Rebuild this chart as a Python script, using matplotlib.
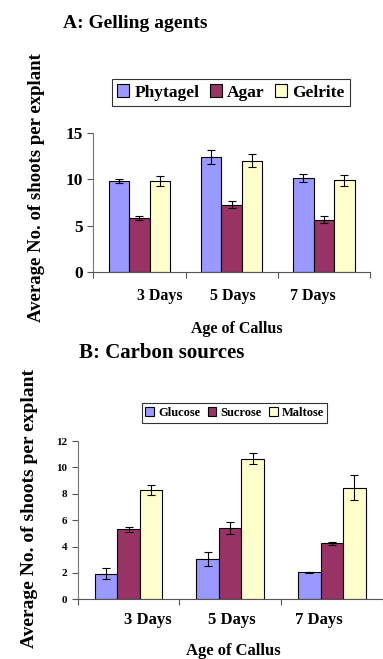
import matplotlib
matplotlib.use("Agg")
import matplotlib.pyplot as plt
import numpy as np

categories = ["3 Days", "5 Days", "7 Days"]

# Panel A
a_series = ["Phytagel", "Agar", "Gelrite"]
a_values = [[9.8, 12.4, 10.15], [5.8, 7.25, 5.65], [9.8, 12.05, 9.9]]
a_errors = [[0.2, 0.75, 0.47], [0.25, 0.4, 0.42], [0.56, 0.74, 0.62]]

# Panel B
b_series = ["Glucose", "Sucrose", "Maltose"]
b_values = [[1.95, 3.03, 2.05], [5.3, 5.38, 4.24], [8.29, 10.66, 8.46]]
b_errors = [[0.44, 0.54, 0.05], [0.17, 0.45, 0.13], [0.39, 0.43, 0.93]]

colors = ["#9999FF", "#993366", "#FFFFCC"]
serif = ["Liberation Serif", "DejaVu Serif"]
plt.rcParams["font.family"] = serif
plt.rcParams["font.weight"] = "bold"

W, H = 383, 659
fig = plt.figure(figsize=(W / 100, H / 100), dpi=100)


def fx(px):
    return px / W


def fy(py):
    return 1 - py / H


def panel(rect, values, errors, names, ylim, yticks, tick_fs, cat_fs, cat_pos, cat_y,
          xlab_pos, leg_rect, leg_fs, ylab_x, ylab_y, ylab_fs, title, title_pos, title_fs):
    ax = fig.add_axes(rect)
    x = np.arange(len(categories))
    bw = 0.222
    for i, (v, e) in enumerate(zip(values, errors)):
        ax.bar(x + (i - 1) * bw, v, bw, color=colors[i], edgecolor="black", linewidth=0.8,
               label=names[i], zorder=2)
        ax.errorbar(x + (i - 1) * bw, v, yerr=e, fmt="none", ecolor="black",
                    elinewidth=0.8, capsize=3, capthick=0.8, zorder=3)
    ax.set_xlim(-0.5, 2.5)
    ax.set_ylim(*ylim)
    ax.set_yticks(yticks)
    ax.set_yticklabels([str(t) for t in yticks], fontsize=tick_fs, fontweight="bold")
    ax.set_xticks([-0.5, 0.5, 1.5, 2.5])
    ax.set_xticklabels([])
    ax.tick_params(axis="x", direction="out", length=4, width=0.8, color="#555555")
    ax.tick_params(axis="y", direction="out", length=4, width=0.8, color="#555555")
    for s in ["top", "right"]:
        ax.spines[s].set_visible(False)
    ax.spines["left"].set_color("#777777")
    ax.spines["bottom"].set_color("#555555")
    for c, (px, py) in zip(categories, cat_pos):
        fig.text(fx(px), fy(cat_y), c, ha="center", va="center", fontsize=cat_fs,
                 fontweight="bold")
    fig.text(fx(xlab_pos[0]), fy(xlab_pos[1]), "Age of Callus", ha="center", va="center",
             fontsize=cat_fs, fontweight="bold")
    leg = ax.legend(loc="center", bbox_to_anchor=leg_rect, bbox_transform=fig.transFigure,
                    ncol=3, frameon=True, fancybox=False,
                    handlelength=0.7, handleheight=0.7, handletextpad=0.3,
                    columnspacing=0.6, borderpad=0.3, prop={"weight": "bold", "size": leg_fs})
    leg.get_frame().set_edgecolor("black")
    leg.get_frame().set_linewidth(0.8)
    fig.text(fx(ylab_x), fy(ylab_y), "Average No. of shoots per explant", rotation=90,
             ha="center", va="center", fontsize=ylab_fs, fontweight="bold")
    fig.text(fx(title_pos[0]), fy(title_pos[1]), title, ha="left", va="center",
             fontsize=title_fs, fontweight="bold")
    return ax


panel([fx(93.3), fy(271.7), fx(370 - 93.3), (271.7 - 133.3) / H],
      a_values, a_errors, a_series, (0, 15), [0, 5, 10, 15], 12.5, 11.5,
      [(160, 0), (233, 0), (313, 0)], 296, (237, 329),
      (fx(119), fy(107), fx(343 - 119), (107 - 78) / H), 12.5,
      37, 188, 13.5, "A: Gelling agents", (63, 23), 14)

panel([fx(77.7), fy(599.3), fx(382.7 - 77.7), (599.3 - 441) / H],
      b_values, b_errors, b_series, (0, 12), [0, 2, 4, 6, 8, 10, 12], 8, 12,
      [(148, 0), (232, 0), (319, 0)], 620, (233, 651),
      (fx(144), fy(423), fx(325 - 144), (423 - 403) / H), 9,
      30, 508, 14, "B: Carbon sources", (79, 353), 15)

fig.savefig("out.png", dpi=100)
